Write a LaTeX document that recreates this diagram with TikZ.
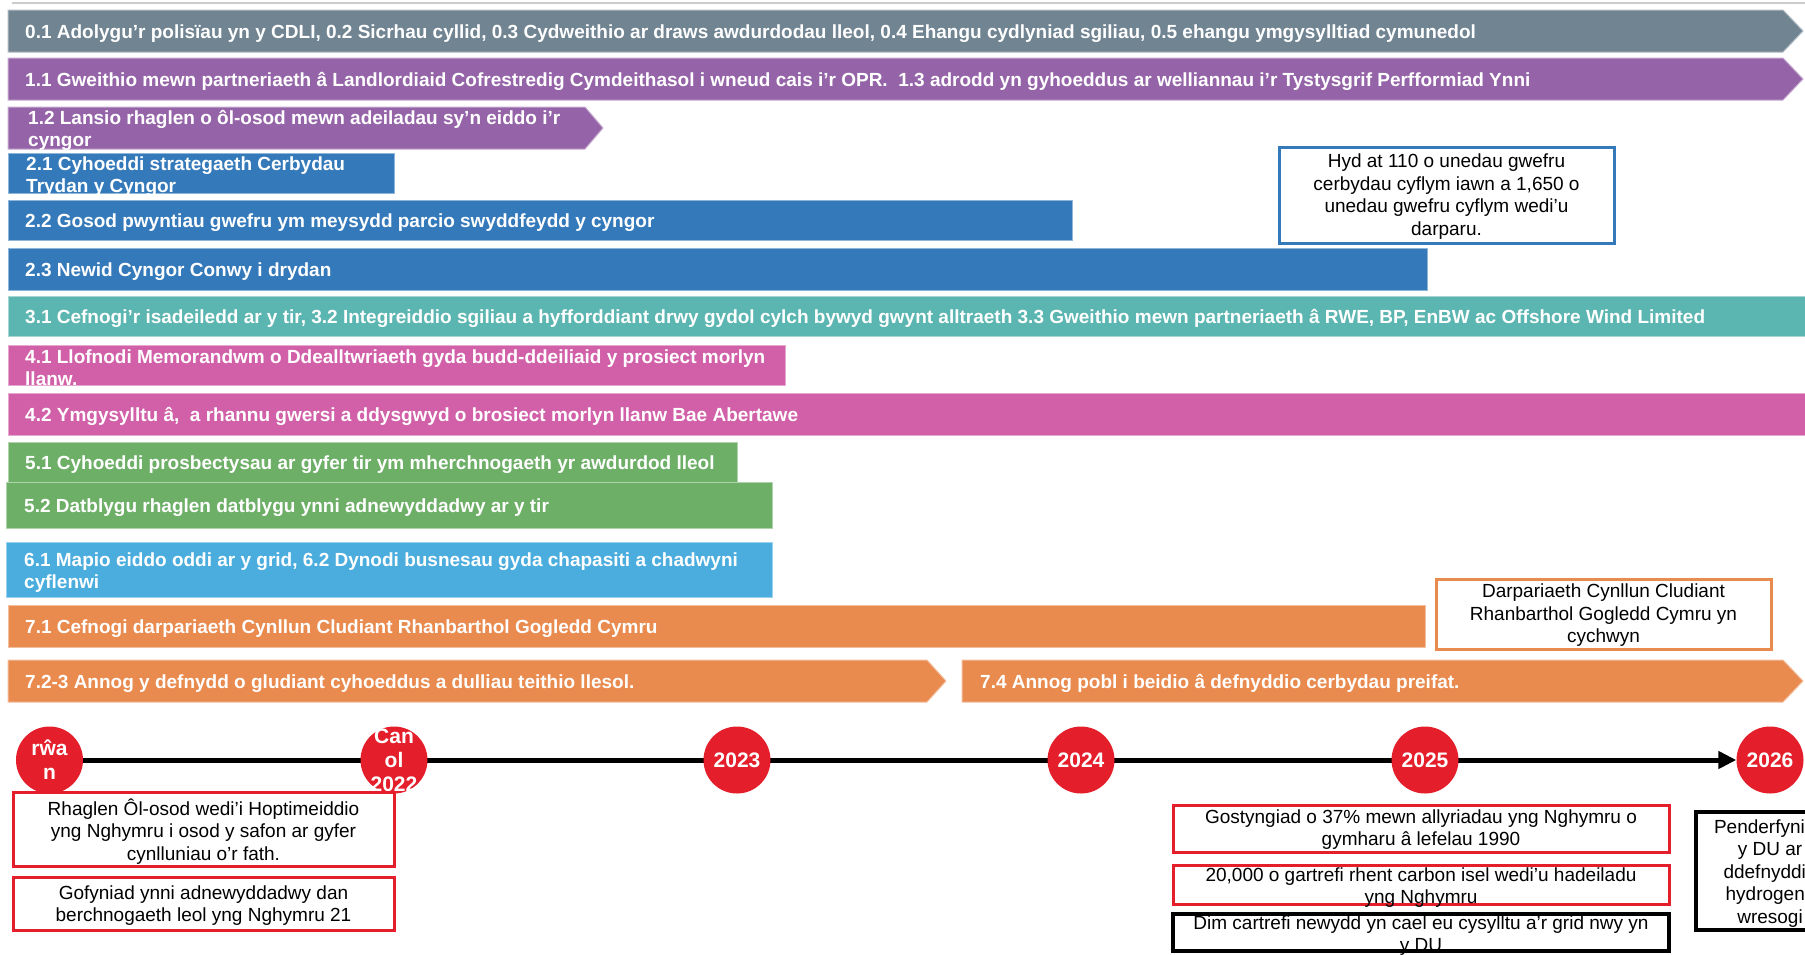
\documentclass[tikz,border=0pt]{standalone}
\usepackage{fontspec}
\setmainfont{Liberation Sans}
\usetikzlibrary{arrows.meta,backgrounds}

\definecolor{slate}{RGB}{112,132,146}
\definecolor{plum}{RGB}{149,100,168}
\definecolor{evblue}{RGB}{52,121,186}
\definecolor{windteal}{RGB}{91,181,176}
\definecolor{tidepink}{RGB}{209,96,168}
\definecolor{landgreen}{RGB}{109,175,103}
\definecolor{gridsky}{RGB}{74,173,222}
\definecolor{transorange}{RGB}{233,138,78}
\definecolor{markred}{RGB}{229,30,43}

\begin{document}
\begin{tikzpicture}[x=1pt,y=-1pt,
  bartext/.style={anchor=west, align=left, text=white, inner sep=0pt, yshift=-2.5pt, font=\bfseries\fontsize{19}{22}\selectfont},
  barfill/.style={fill=#1, draw=#1!55!white, line width=1pt},
  year/.style={circle, fill=markred, minimum size=67pt, inner sep=0pt},
  yeartext/.style={text=white, align=center, inner sep=0pt, font=\bfseries\fontsize{21}{24}\selectfont},
  goal/.style={draw=#1, line width=3pt},
  goaltext/.style={align=center, inner sep=0pt, yshift=-1.5pt, font=\fontsize{19}{22.5}\selectfont},
  >={Triangle[length=18pt,width=17pt]}]
\useasboundingbox (0,0) rectangle (1805,954);
\draw[black!20, line width=1.5pt] (12,3) -- (1805,3);

% bars
\path[barfill=slate] (8,10) -- (1783,10) -- (1803,31) -- (1783,52) -- (8,52) -- cycle;
\node[bartext] (r0) at (25,31) {0.1 Adolygu’r polisïau yn y CDLI, 0.2 Sicrhau cyllid, 0.3 Cydweithio ar draws awdurdodau lleol, 0.4 Ehangu cydlyniad sgiliau, 0.5 ehangu ymgysylltiad cymunedol};
\path[barfill=plum] (8,58) -- (1783,58) -- (1803,79) -- (1783,100) -- (8,100) -- cycle;
\node[bartext] (r11) at (25,79) {1.1 Gweithio mewn partneriaeth â Landlordiaid Cofrestredig Cymdeithasol i wneud cais i’r OPR.\ \ 1.3 adrodd yn gyhoeddus ar welliannau i’r Tystysgrif Perfformiad Ynni};
\path[barfill=plum] (8,107) -- (585,107) -- (603,128) -- (585,149) -- (8,149) -- cycle;
\node[bartext] (r12) at (28,128) {1.2 Lansio rhaglen o ôl-osod mewn adeiladau sy’n eiddo i’r\\cyngor};

\path[barfill=evblue] (8,153) rectangle (394,193);
\node[bartext] (r21) at (26,174) {2.1 Cyhoeddi strategaeth Cerbydau\\Trydan y Cyngor};
\path[barfill=evblue] (8,200) rectangle (1072,240);
\node[bartext] (r22) at (25,220) {2.2 Gosod pwyntiau gwefru ym meysydd parcio swyddfeydd y cyngor};
\path[barfill=evblue] (8,248) rectangle (1427,290);
\node[bartext] (r23) at (25,269) {2.3 Newid Cyngor Conwy i drydan};

\path[barfill=windteal] (8,296) rectangle (1805,336);
\node[bartext] (r3) at (25,316) {3.1 Cefnogi’r isadeiledd ar y tir, 3.2 Integreiddio sgiliau a hyfforddiant drwy gydol cylch bywyd gwynt alltraeth 3.3 Gweithio mewn partneriaeth â RWE, BP, EnBW ac Offshore Wind Limited};

\path[barfill=tidepink] (8,345) rectangle (785,385);
\node[bartext] (r41) at (25,365) {4.1 Llofnodi Memorandwm o Ddealltwriaeth gyda budd-ddeiliaid y prosiect morlyn\\llanw.};
\path[barfill=tidepink] (8,393) rectangle (1805,435);
\node[bartext] (r42) at (25,414) {4.2 Ymgysylltu â,\ \ a rhannu gwersi a ddysgwyd o brosiect morlyn llanw Bae Abertawe};

\path[barfill=landgreen] (8,442) rectangle (737,482);
\node[bartext] (r51) at (25,462) {5.1 Cyhoeddi prosbectysau ar gyfer tir ym mherchnogaeth yr awdurdod lleol};
\path[barfill=landgreen] (6,482) rectangle (772,528);
\node[bartext] (r52) at (24,505) {5.2 Datblygu rhaglen datblygu ynni adnewyddadwy ar y tir};

\path[barfill=gridsky] (6,542) rectangle (772,597);
\node[bartext] (r6) at (24,570) {6.1 Mapio eiddo oddi ar y grid, 6.2 Dynodi busnesau gyda chapasiti a chadwyni\\cyflenwi};

\path[barfill=transorange] (8,605) rectangle (1425,647);
\node[bartext] (r71) at (25,626) {7.1 Cefnogi darpariaeth Cynllun Cludiant Rhanbarthol Gogledd Cymru};
\path[barfill=transorange] (8,660) -- (927,660) -- (946,681) -- (927,702) -- (8,702) -- cycle;
\node[bartext] (r723) at (25,681) {7.2-3 Annog y defnydd o gludiant cyhoeddus a dulliau teithio llesol.};
\path[barfill=transorange] (962,660) -- (1783,660) -- (1803,681) -- (1783,702) -- (962,702) -- cycle;
\node[bartext] (r74) at (980,681) {7.4 Annog pobl i beidio â defnyddio cerbydau preifat.};

% milestones above the timeline
\draw[goal=evblue] (1279,147) rectangle (1614,243);
\node[goaltext] (evpoints) at (1446.5,195) {Hyd at 110 o unedau gwefru\\cerbydau cyflym iawn a 1,650 o\\unedau gwefru cyflym wedi’u\\darparu.};
\draw[goal=transorange] (1436,579) rectangle (1771,649);
\node[goaltext] (rtplan) at (1603.5,614) {Darpariaeth Cynllun Cludiant\\Rhanbarthol Gogledd Cymru yn\\cychwyn};

% timeline
\node[year] (now) at (49.5,760) {};
\node[year] (mid22) at (394,760) {};
\node[year] (y2023) at (737,760) {};
\node[year] (y2024) at (1081,760) {};
\node[year] (y2025) at (1425,760) {};
\node[year] (y2026) at (1770,760) {};
\begin{scope}[on background layer]
\draw[line width=5pt, ->] (now) -- (y2026);
\end{scope}
\node[yeartext] (tnow) at (now) {rŵa\\n};
\node[yeartext] (tmid22) at (mid22) {Can\\ol\\2022};
\node[yeartext] (t2023) at (y2023) {2023};
\node[yeartext] (t2024) at (y2024) {2024};
\node[yeartext] (t2025) at (y2025) {2025};
\node[yeartext] (t2026) at (y2026) {2026};

% targets below the timeline
\draw[goal=markred] (13,792) rectangle (394,866);
\node[goaltext] (retrofit) at (203.5,830) {Rhaglen Ôl-osod wedi’i Hoptimeiddio\\yng Nghymru i osod y safon ar gyfer\\cynlluniau o’r fath.};
\draw[goal=markred] (13,877) rectangle (394,930);
\node[goaltext] (localre) at (203.5,904) {Gofyniad ynni adnewyddadwy dan\\berchnogaeth leol yng Nghymru 21};
\draw[goal=markred] (1173,805) rectangle (1669,852);
\node[goaltext] (cut37) at (1421,828) {Gostyngiad o 37\% mewn allyriadau yng Nghymru o\\gymharu â lefelau 1990};
\draw[goal=markred] (1173,865) rectangle (1669,904);
\node[goaltext] (homes) at (1421,886) {20,000 o gartrefi rhent carbon isel wedi’u hadeiladu\\yng Nghymru};
\draw[goal=black, line width=4pt] (1173,914) rectangle (1669,951);
\node[goaltext] (nogas) at (1421,934) {Dim cartrefi newydd yn cael eu cysylltu a’r grid nwy yn\\y DU};
\draw[goal=black, line width=4pt] (1696,812) rectangle (1844,930);
\node[goaltext] (hydrogen) at (1770,872) {Penderfyniad\\y DU ar\\ddefnyddio\\hydrogen i\\wresogi};
\end{tikzpicture}
\end{document}
